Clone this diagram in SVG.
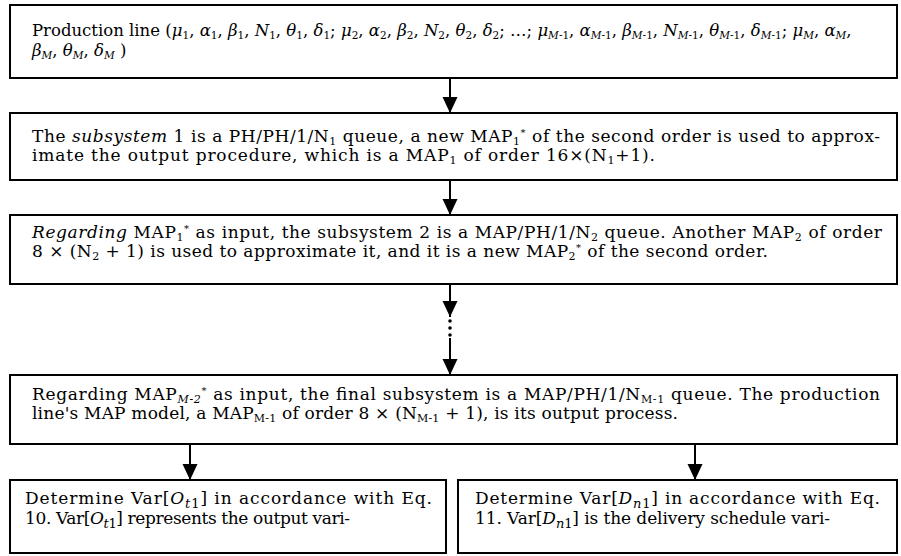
<svg xmlns="http://www.w3.org/2000/svg" width="901" height="556" viewBox="0 0 901 556">
  <style>
    .box { fill: #ffffff; stroke: #000000; stroke-width: 2; }
    .t { font-family: "DejaVu Serif", "Liberation Serif", serif; font-size: 17px; fill: #000000; }
    .t1 { font-size: 16.5px; }
    .i { font-style: italic; }
    .sb { font-size: 11px; }
    .sb1 { font-size: 10.5px; }
    .sm { font-size: 13px; }
    .sp { font-size: 10px; }
    .wire { stroke: #000000; stroke-width: 2; fill: none; }
  </style>
  <defs>
    <marker id="head" markerUnits="userSpaceOnUse" markerWidth="17" markerHeight="16" refX="16" refY="7.5" orient="auto">
      <path d="M0,0 L16,7.5 L0,15 z" fill="#000000"/>
    </marker>
    <clipPath id="clip-sub1">
      <rect x="10" y="113" width="887" height="52"/>
    </clipPath>
  </defs>

  <rect width="901" height="556" fill="#ffffff"/>

  <!-- connectors -->
  <g id="connectors">
    <line class="wire" x1="450" y1="78" x2="450" y2="113" marker-end="url(#head)"/>
    <line class="wire" x1="450" y1="180" x2="450" y2="215" marker-end="url(#head)"/>
    <line class="wire" x1="450" y1="284" x2="450" y2="317" marker-end="url(#head)"/>
    <circle cx="450" cy="321" r="1.8" fill="#000000"/>
    <circle cx="450" cy="328" r="1.8" fill="#000000"/>
    <circle cx="450" cy="335" r="1.8" fill="#000000"/>
    <line class="wire" x1="450" y1="338" x2="450" y2="375" marker-end="url(#head)"/>
    <line class="wire" x1="190" y1="444" x2="190" y2="480" marker-end="url(#head)"/>
    <line class="wire" x1="695" y1="444" x2="695" y2="480" marker-end="url(#head)"/>
  </g>

  <!-- production line parameters -->
  <g id="node-line">
    <rect class="box" x="10" y="5" width="887" height="73"/>
    <text class="t t1" x="32" y="36">Production line (<tspan class="i">μ</tspan><tspan class="sb1" dy="3">1</tspan><tspan dy="-3">, </tspan><tspan class="i">α</tspan><tspan class="sb1" dy="3">1</tspan><tspan dy="-3">, </tspan><tspan class="i">β</tspan><tspan class="sb1" dy="3">1</tspan><tspan dy="-3">, </tspan><tspan class="i">N</tspan><tspan class="sb1" dy="3">1</tspan><tspan dy="-3">, </tspan><tspan class="i">θ</tspan><tspan class="sb1" dy="3">1</tspan><tspan dy="-3">, </tspan><tspan class="i">δ</tspan><tspan class="sb1" dy="3">1</tspan><tspan dy="-3">; </tspan><tspan class="i">μ</tspan><tspan class="sb1" dy="3">2</tspan><tspan dy="-3">, </tspan><tspan class="i">α</tspan><tspan class="sb1" dy="3">2</tspan><tspan dy="-3">, </tspan><tspan class="i">β</tspan><tspan class="sb1" dy="3">2</tspan><tspan dy="-3">, </tspan><tspan class="i">N</tspan><tspan class="sb1" dy="3">2</tspan><tspan dy="-3">, </tspan><tspan class="i">θ</tspan><tspan class="sb1" dy="3">2</tspan><tspan dy="-3">, </tspan><tspan class="i">δ</tspan><tspan class="sb1" dy="3">2</tspan><tspan dy="-3">; …; </tspan><tspan class="i">μ</tspan><tspan class="sb1" dy="3"><tspan class="i">M</tspan>-1</tspan><tspan dy="-3">, </tspan><tspan class="i">α</tspan><tspan class="sb1" dy="3"><tspan class="i">M</tspan>-1</tspan><tspan dy="-3">, </tspan><tspan class="i">β</tspan><tspan class="sb1" dy="3"><tspan class="i">M</tspan>-1</tspan><tspan dy="-3">, </tspan><tspan class="i">N</tspan><tspan class="sb1" dy="3"><tspan class="i">M</tspan>-1</tspan><tspan dy="-3">, </tspan><tspan class="i">θ</tspan><tspan class="sb1" dy="3"><tspan class="i">M</tspan>-1</tspan><tspan dy="-3">, </tspan><tspan class="i">δ</tspan><tspan class="sb1" dy="3"><tspan class="i">M</tspan>-1</tspan><tspan dy="-3">; </tspan><tspan class="i">μ</tspan><tspan class="sb1 i" dy="3">M</tspan><tspan dy="-3">, </tspan><tspan class="i">α</tspan><tspan class="sb1 i" dy="3">M</tspan><tspan dy="-3">,</tspan></text>
    <text class="t t1" x="32" y="56"><tspan class="i">β</tspan><tspan class="sb1 i" dy="3">M</tspan><tspan dy="-3">, </tspan><tspan class="i">θ</tspan><tspan class="sb1 i" dy="3">M</tspan><tspan dy="-3">, </tspan><tspan class="i">δ</tspan><tspan class="sb1 i" dy="3">M</tspan><tspan dy="-3"> )</tspan></text>
  </g>

  <!-- subsystem 1 -->
  <g id="node-sub1">
    <rect class="box" x="10" y="113" width="887" height="67"/>
    <g clip-path="url(#clip-sub1)">
      <text class="t" x="32" y="142" textLength="848" lengthAdjust="spacing">The <tspan class="i">subsystem</tspan> 1 is a PH/PH/1/N<tspan class="sb" dy="3">1</tspan><tspan dy="-3"> queue,  a new MAP</tspan><tspan class="sb" dy="3">1</tspan><tspan class="sp" dy="-9">*</tspan><tspan dy="6"> of the second order is used to approx-</tspan></text>
      <text class="t" x="32" y="161" textLength="623" lengthAdjust="spacing">imate the output procedure, which is a MAP<tspan class="sb" dy="3">1</tspan><tspan dy="-3"> of order 16×(N</tspan><tspan class="sb" dy="3">1</tspan><tspan dy="-3">+1).</tspan></text>
    </g>
  </g>

  <!-- subsystem 2 -->
  <g id="node-sub2">
    <rect class="box" x="10" y="215" width="887" height="69"/>
    <text class="t" x="32" y="238" textLength="850" lengthAdjust="spacing"><tspan class="i">Regarding</tspan> MAP<tspan class="sb" dy="3">1</tspan><tspan class="sp" dy="-9">*</tspan><tspan dy="6"> as input, the subsystem 2 is a MAP/PH/1/N</tspan><tspan class="sb" dy="3">2</tspan><tspan dy="-3"> queue. Another MAP</tspan><tspan class="sb" dy="3">2</tspan><tspan dy="-3"> of order</tspan></text>
    <text class="t" x="32" y="257" textLength="736" lengthAdjust="spacing">8 × (N<tspan class="sb" dy="3">2</tspan><tspan dy="-3"> + 1) is used to approximate it, and it is a new MAP</tspan><tspan class="sb" dy="3">2</tspan><tspan class="sp" dy="-9">*</tspan><tspan dy="6"> of the second order.</tspan></text>
  </g>

  <!-- final subsystem -->
  <g id="node-final">
    <rect class="box" x="10" y="375" width="887" height="69"/>
    <text class="t" x="32" y="400" textLength="848" lengthAdjust="spacing">Regarding MAP<tspan class="sb i" dy="3">M-2</tspan><tspan class="sp" dy="-9">*</tspan><tspan dy="6"> as input, the final subsystem is a MAP/PH/1/N</tspan><tspan class="sb" dy="3">M-1</tspan><tspan dy="-3"> queue. The production</tspan></text>
    <text class="t" x="32" y="419" textLength="646" lengthAdjust="spacing">line's MAP model, a MAP<tspan class="sb" dy="3">M-1</tspan><tspan dy="-3"> of order 8 × (N</tspan><tspan class="sb" dy="3">M-1</tspan><tspan dy="-3"> + 1), is its output process.</tspan></text>
  </g>

  <!-- output variance -->
  <g id="node-output">
    <rect class="box" x="10" y="480" width="436" height="73"/>
    <text class="t" x="25" y="504" textLength="407" lengthAdjust="spacing">Determine Var[<tspan class="i">O</tspan><tspan class="sm" dy="4"><tspan class="i">t</tspan>1</tspan><tspan dy="-4">] in accordance with Eq.</tspan></text>
    <text class="t" x="25" y="524" textLength="325" lengthAdjust="spacing">10. Var[<tspan class="i">O</tspan><tspan class="sm" dy="4"><tspan class="i">t</tspan>1</tspan><tspan dy="-4">] represents the output vari-</tspan></text>
  </g>

  <!-- delivery schedule variance -->
  <g id="node-delivery">
    <rect class="box" x="458" y="480" width="439" height="73"/>
    <text class="t" x="475" y="504" textLength="405" lengthAdjust="spacing">Determine Var[<tspan class="i">D</tspan><tspan class="sm" dy="4"><tspan class="i">n</tspan>1</tspan><tspan dy="-4">] in accordance with Eq.</tspan></text>
    <text class="t" x="475" y="524" textLength="355" lengthAdjust="spacing">11.  Var[<tspan class="i">D</tspan><tspan class="sm" dy="4"><tspan class="i">n</tspan>1</tspan><tspan dy="-4">] is the delivery schedule vari-</tspan></text>
  </g>
</svg>
